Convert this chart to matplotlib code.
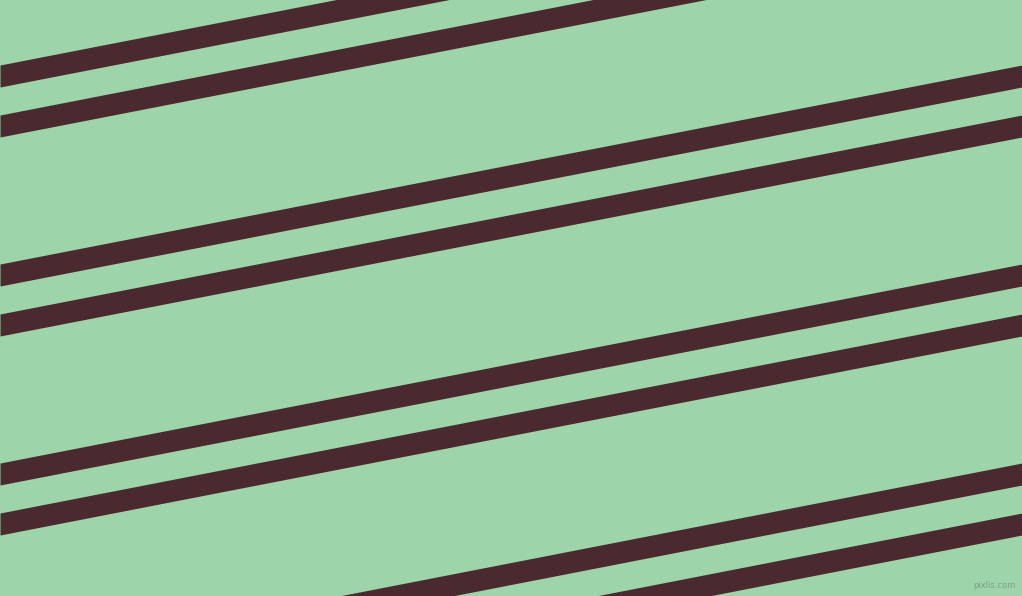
import matplotlib
matplotlib.use("Agg")
import matplotlib.pyplot as plt
import numpy as np

W, H = 1022, 596
bg_color = "#9dd4a9"
stripe_color = "#4a2a2f"

# stripe centre heights at left edge (x=0) and right edge (x=W)
left_y = [76, 126, 275, 325, 474, 524, 673, 723]
right_y = [-123, -73, 76, 126, 275, 325, 474, 524]
stripe_thickness = 22  # vertical thickness in pixels

fig = plt.figure(figsize=(W / 100, H / 100), dpi=100)
ax = fig.add_axes([0, 0, 1, 1])
ax.set_facecolor(bg_color)
fig.patch.set_facecolor(bg_color)

xs = np.array([0.0, W])
for yl, yr in zip(left_y, right_y):
    yc = np.array([yl, yr], dtype=float)
    ax.fill_between(xs, yc - stripe_thickness / 2, yc + stripe_thickness / 2,
                    color=stripe_color, linewidth=0)

ax.set_xlim(0, W)
ax.set_ylim(H, 0)
ax.axis("off")

ax.text(1016, 590, "pixlis.com", ha="right", va="bottom", fontsize=6,
        color="#7f9f86", family="DejaVu Sans")

fig.savefig("out.png", dpi=100, facecolor=bg_color)
